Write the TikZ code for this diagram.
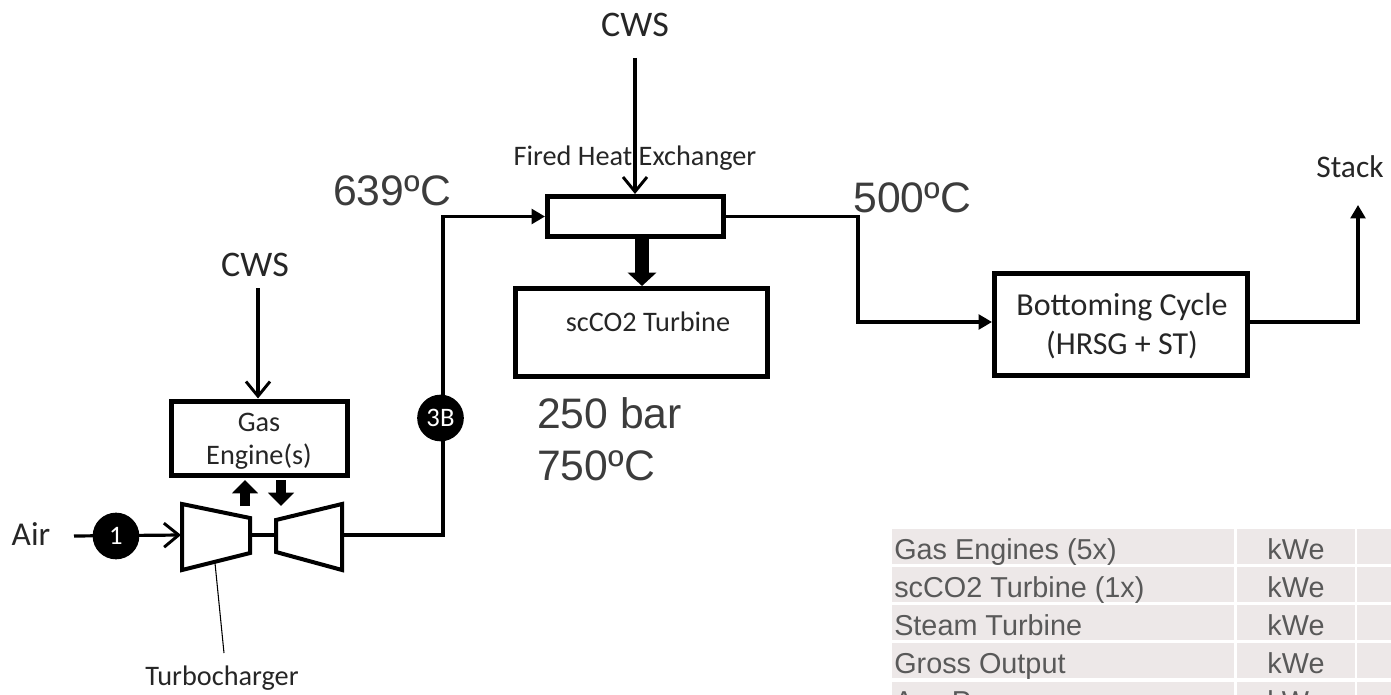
\documentclass[tikz,border=0pt]{standalone}
\usepackage{fontspec}
\setmainfont{Carlito}
\newfontfamily\tempfont{Liberation Sans}
\usetikzlibrary{arrows.meta}
\definecolor{rowfill}{RGB}{237,232,232}
\definecolor{rowtext}{RGB}{89,89,89}
\definecolor{labeltext}{RGB}{38,38,38}
\tikzset{
  unitbox/.style={draw,line width=3.75pt,inner sep=0pt},
  flowline/.style={line width=2.4pt},
  openhead/.style={flowline,-{Straight Barb[length=11pt,width=18pt,line width=2.2pt]}},
  fillhead/.style={flowline,-{Triangle[length=10pt,width=11pt]}},
  heatarrow/.style={line width=10.5pt,-{Triangle[length=10pt,width=21pt]}},
  stubarrow/.style={line width=8pt,-{Triangle[length=10pt,width=19pt]}},
  tagdot/.style={circle,fill=black,text=white,inner sep=0pt,minimum size=35pt,font=\fontsize{20}{20}\selectfont},
  drawtext/.style={text=labeltext,inner sep=0pt,font=\fontsize{21.2}{21.2}\selectfont},
  bigtext/.style={drawtext,font=\fontsize{27}{27}\selectfont},
  temptext/.style={text=labeltext!90!white,inner sep=0pt,anchor=base west,font=\tempfont\fontsize{32}{32}\selectfont},
  rowbox/.style={fill=rowfill,inner sep=0pt,anchor=north west,minimum height=26.25pt},
  rowlabel/.style={text=rowtext,inner sep=0pt,anchor=base west,font=\tempfont\fontsize{21.6}{21.6}\selectfont},
  rowunit/.style={rowlabel,anchor=base}
}
\begin{document}
\begin{tikzpicture}[x=0.75pt,y=0.75pt,yscale=-1,xscale=1]
\useasboundingbox (0,0) rectangle (1391,695);
\clip (0,0) rectangle (1391,695);

%Table rows
\node[rowbox,minimum width=256.5pt] (rowa1) at (892,529) {};
\node[rowbox,minimum width=88.5pt] (rowa2) at (1237,529) {};
\node[rowbox,minimum width=30pt] (rowa3) at (1357,529) {};
\node[rowbox,minimum width=256.5pt] (rowb1) at (892,567) {};
\node[rowbox,minimum width=88.5pt] (rowb2) at (1237,567) {};
\node[rowbox,minimum width=30pt] (rowb3) at (1357,567) {};
\node[rowbox,minimum width=256.5pt] (rowc1) at (892,605) {};
\node[rowbox,minimum width=88.5pt] (rowc2) at (1237,605) {};
\node[rowbox,minimum width=30pt] (rowc3) at (1357,605) {};
\node[rowbox,minimum width=256.5pt] (rowd1) at (892,643) {};
\node[rowbox,minimum width=88.5pt] (rowd2) at (1237,643) {};
\node[rowbox,minimum width=30pt] (rowd3) at (1357,643) {};
\node[rowbox,minimum width=256.5pt] (rowe1) at (892,682) {};
\node[rowbox,minimum width=88.5pt] (rowe2) at (1237,682) {};
\node[rowbox,minimum width=30pt] (rowe3) at (1357,682) {};

% Text Node
\node[rowlabel] (gaslabel) at (894,559) {Gas Engines (5x)};
\node[rowunit] (gasunit) at (1296,559) {kWe};
\node[rowlabel] (sclabel) at (894,597) {scCO2 Turbine (1x)};
\node[rowunit] (scunit) at (1296,597) {kWe};
\node[rowlabel] (steamlabel) at (894,635) {Steam Turbine};
\node[rowunit] (steamunit) at (1296,635) {kWe};
\node[rowlabel] (grosslabel) at (894,673) {Gross Output};
\node[rowunit] (grossunit) at (1296,673) {kWe};
\node[rowlabel] (auxlabel) at (894,711) {Aux Power};
\node[rowunit] (auxunit) at (1296,711) {kWe};

%Unit boxes
\node[unitbox,minimum width=132pt,minimum height=55.5pt] (engine) at (259,438) {};
\node[unitbox,minimum width=132pt,minimum height=30pt] (fired) at (635.5,216.5) {};
\node[unitbox,minimum width=189pt,minimum height=66pt] (sco) at (641.5,332.5) {};
\node[unitbox,minimum width=190pt,minimum height=76.5pt] (bottom) at (1121,324) {};

%Turbocharger
\draw[line width=3pt] (182,504) -- (250,518) -- (250,553) -- (182,570) -- cycle;
\draw[line width=3pt] (276,520) -- (342,504) -- (342,570) -- (276,552) -- cycle;
\coordinate (cmpin) at (181,535);
\coordinate (cmpout) at (250,535);
\coordinate (trbin) at (276,535);
\coordinate (trbout) at (342,535);
\coordinate (cmpfoot) at (215,563);
\draw[flowline] (cmpout) -- (trbin);

% Text Node
\node[drawtext] (turbolabel) at (222,678) {Turbocharger};
\coordinate (turbotop) at (224,653);
\draw[line width=0.8pt] (cmpfoot) -- (turbotop);

%Air inlet
\node[drawtext,font=\fontsize{25}{25}\selectfont] (air) at (31,534) {Air};
\coordinate (airstart) at (74,536);
\draw[openhead] (airstart) -- (cmpin);
\node[tagdot] (tagone) at (116,536) {1};

%Engine
\node[bigtext] (cwsa) at (255,265) {CWS};
\coordinate (cwsastart) at (258,288);
\draw[openhead] (cwsastart) -- (engine.north -| cwsastart);
\coordinate (uptail) at (245,506);
\coordinate (uphead) at (245,480);
\coordinate (downtail) at (281,480);
\coordinate (downhead) at (281,506);
\draw[stubarrow] (uptail) -- (uphead);
\draw[stubarrow] (downtail) -- (downhead);
\node[drawtext,align=center,font=\fontsize{21.2}{25}\selectfont] (enginelabel) at (259,441) {Gas\\Engine(s)};

%Exhaust to heat exchanger
\coordinate (riser) at (443,418);
\draw[fillhead] (trbout) -| (riser) |- (fired.west);
\node[tagdot] (tagthree) at (440.5,418) {3B};

%Heat exchanger
\node[bigtext] (cwsb) at (635,25) {CWS};
\coordinate (cwsbstart) at (635,58);
\draw[openhead] (cwsbstart) -- (fired.north -| cwsbstart);
\node[drawtext] (firedlabel) at (635,158) {Fired Heat Exchanger};
\coordinate (heattail) at (642,239);
\coordinate (heathead) at (642,286);
\draw[heatarrow] (heattail) -- (heathead);
\node[drawtext] (scolabel) at (648,322) {scCO2 Turbine};

%Temperatures
\node[temptext] (tempa) at (333,206) {639ºC};
\node[temptext] (tempb) at (853,213) {500ºC};
\node[temptext] (pressure) at (537,428) {250 bar};
\node[temptext] (tempc) at (537,480) {750ºC};

%Bottoming cycle
\coordinate (split) at (858,216.5);
\coordinate (bottomin) at (992,322);
\coordinate (bottomout) at (1250,322);
\draw[fillhead] (fired.east) -- (split) |- (bottomin);
\node[drawtext,align=center,font=\fontsize{24}{29}\selectfont] (bottomlabel) at (1122,326) {Bottoming Cycle\\(HRSG + ST)};

%Stack
\node[drawtext,font=\fontsize{23.6}{23.6}\selectfont] (stack) at (1350,167) {Stack};
\coordinate (stackfoot) at (1358,205);
\draw[fillhead] (bottomout) -| (stackfoot);

\end{tikzpicture}
\end{document}
